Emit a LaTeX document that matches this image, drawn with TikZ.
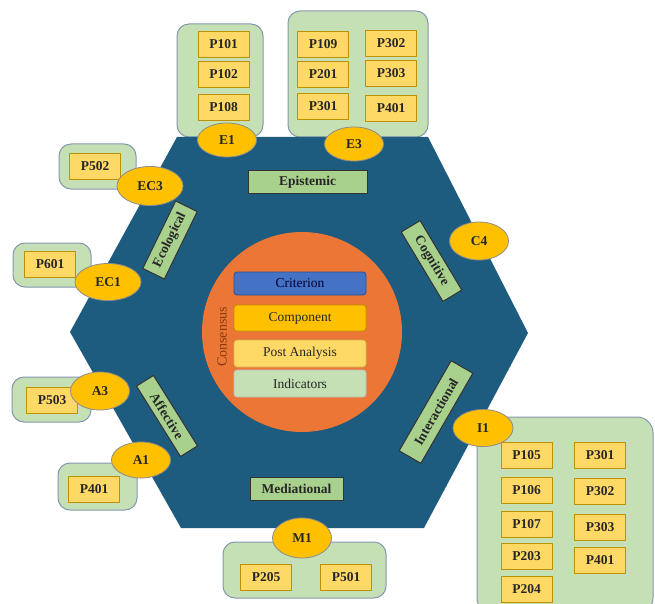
\documentclass[tikz,border=0pt]{standalone}
\usepackage{fontspec}
\setmainfont{Liberation Serif}
\usetikzlibrary{shapes.geometric}
\definecolor{xanhdam}{HTML}{1D5B7F}
\definecolor{cam}{HTML}{EB7636}
\definecolor{camdam}{HTML}{843C0C}
\definecolor{xanhla}{HTML}{C5E0B4}
\definecolor{vienxam}{HTML}{8497B0}
\definecolor{vang}{HTML}{FFD966}
\definecolor{vangdam}{HTML}{BF9000}
\definecolor{vangcam}{HTML}{FFC000}
\definecolor{xanhnhat}{HTML}{A9D18E}
\definecolor{xanhduong}{HTML}{4472C4}
\begin{document}
\begin{tikzpicture}[x=1pt,y=-1pt,font=\fontsize{13}{15}\selectfont,line join=round,line cap=round,
	pbox/.style={draw=vangdam,fill=vang,line width=0.8pt,minimum width=51pt,minimum height=26pt,inner sep=0pt,font=\fontsize{13.5}{15}\selectfont\bfseries,text=black!85},
	nhom/.style={draw=vienxam,fill=xanhla,line width=1pt,rounded corners=12pt},
	elip/.style={ellipse,draw=black!45,fill=vangcam,line width=0.8pt,minimum width=59pt,minimum height=37pt,inner sep=0pt,font=\fontsize{13.5}{15}\selectfont\bfseries,text=black!85},
	chieu/.style={draw=black!80,fill=xanhnhat,line width=1pt,minimum height=22pt,inner sep=0pt,font=\fontsize{13.5}{15}\selectfont\bfseries,text=black!85},
	lop/.style={rounded corners=3pt,line width=0.8pt,minimum width=132pt,inner sep=0pt,font=\fontsize{13.5}{15}\selectfont,text=black!85}]
				\useasboundingbox (0,0) rectangle (655,604);
				%Vẽ các nhóm
				\draw[nhom] (177,24) rectangle (263,137);
				\draw[nhom] (288,11) rectangle (428,137);
				\draw[nhom] (59,144) rectangle (136,189);
				\draw[nhom] (13,243) rectangle (91,287);
				\draw[nhom] (12,377) rectangle (91,422);
				\draw[nhom] (58,463) rectangle (137,510);
				\draw[nhom] (223,542) rectangle (386,598);
				\draw[nhom,rounded corners=16pt] (477,417) rectangle (653,614);
				%Vẽ lục giác và hình tròn
				\fill[xanhdam] (177,137)--(428,137)--(528,333)--(424,528)--(181,528)--(70,332)--cycle;
				\fill[cam] (302,332) circle (100);
				%Vẽ các lớp ở giữa
				\node[lop,draw=xanhduong!70!black,fill=xanhduong,text=blue!20!black,minimum height=23pt] (criterion) at (300,283.5) {Criterion};
				\node[lop,draw=vangdam,fill=vangcam,minimum height=26pt] (component) at (300,318) {Component};
				\node[lop,draw=vangdam!70,fill=vang,minimum height=27pt] (post) at (300,353.5) {Post Analysis};
				\node[lop,draw=black!25,fill=xanhla,minimum height=27pt] (indicators) at (300,383.5) {Indicators};
				\node[rotate=90,text=camdam,font=\fontsize{14}{15}\selectfont] (consensus) at (222,337) {Consensus};
				%Vẽ các chiều
				\node[chieu,minimum width=119pt] (epistemic) at (307.5,182) {Epistemic};
				\node[chieu,minimum width=81pt,rotate=-59] (cognitive) at (431.5,261) {Cognitive};
				\node[chieu,minimum width=104pt,minimum height=25pt,rotate=60] (interactional) at (436,412) {Interactional};
				\node[chieu,minimum width=93pt,minimum height=23pt] (mediational) at (296.5,488.5) {Mediational};
				\node[chieu,minimum width=83pt,minimum height=20pt,rotate=-58] (affective) at (167,416) {Affective};
				\node[chieu,minimum width=75pt,minimum height=24pt,rotate=64] (ecological) at (170,240) {Ecological};
				%Vẽ các ô P
				\node[pbox] (p101) at (223.5,44) {P101};
				\node[pbox] (p102) at (223.5,74) {P102};
				\node[pbox] (p108) at (223.5,107) {P108};
				\node[pbox] (p109) at (323,44) {P109};
				\node[pbox] (p201) at (323,74) {P201};
				\node[pbox] (p301) at (323,106) {P301};
				\node[pbox] (p302) at (391,43) {P302};
				\node[pbox] (p303) at (391,73) {P303};
				\node[pbox] (p401) at (391,108) {P401};
				\node[pbox] (p502) at (95,166) {P502};
				\node[pbox] (p601) at (50,264) {P601};
				\node[pbox] (p503) at (52,400) {P503};
				\node[pbox] (p401a) at (94,489) {P401};
				\node[pbox] (p205) at (266,577) {P205};
				\node[pbox] (p501) at (346,577) {P501};
				\node[pbox] (p105) at (526.5,455) {P105};
				\node[pbox] (p106) at (526.5,490) {P106};
				\node[pbox] (p107) at (526.5,524) {P107};
				\node[pbox] (p203) at (526.5,556) {P203};
				\node[pbox] (p204) at (526.5,589) {P204};
				\node[pbox] (p301i) at (600,455) {P301};
				\node[pbox] (p302i) at (600,491) {P302};
				\node[pbox] (p303i) at (600,527) {P303};
				\node[pbox] (p401i) at (600,560) {P401};
				%Vẽ các elip
				\node[elip,minimum height=34pt] (e1) at (227,140) {E1};
				\node[elip,minimum height=34pt] (e3) at (354,144) {E3};
				\node[elip,minimum width=66pt,minimum height=39pt] (ec3) at (150,186) {EC3};
				\node[elip,minimum width=66pt] (ec1) at (108,282) {EC1};
				\node[elip,minimum height=38pt] (a3) at (100,391) {A3};
				\node[elip,minimum height=36pt] (a1) at (141,460) {A1};
				\node[elip,minimum height=38pt] (c4) at (479,241) {C4};
				\node[elip,minimum width=60pt] (i1) at (483,428) {I1};
				\node[elip,minimum height=40pt] (m1) at (302,538) {M1};
			\end{tikzpicture}
\end{document}
